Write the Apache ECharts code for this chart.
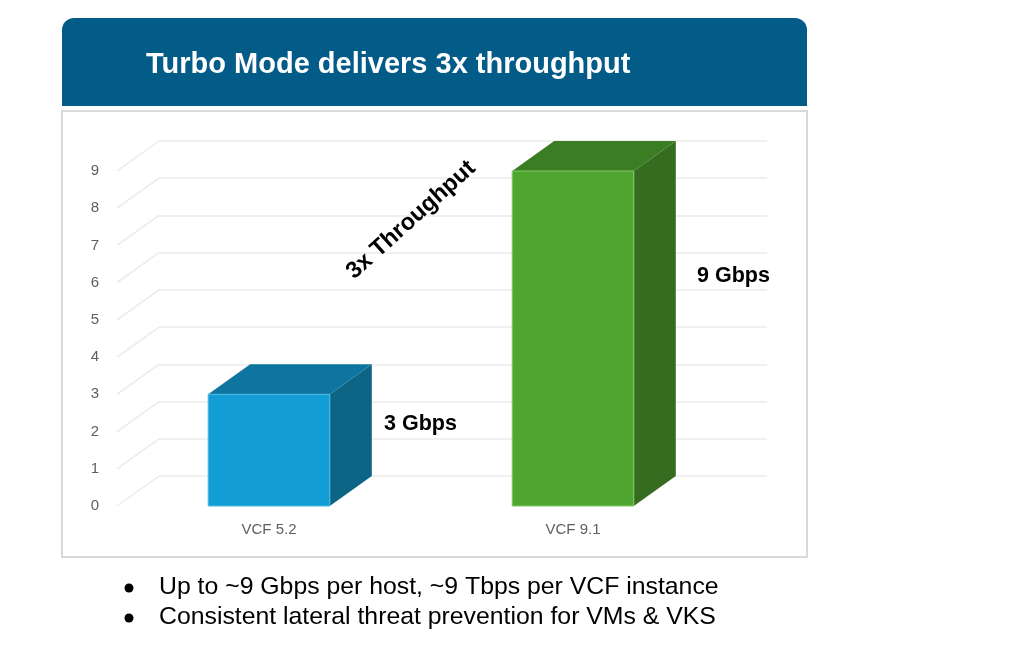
<!DOCTYPE html>
<html>
<head>
<meta charset="utf-8">
<script src="https://cdn.jsdelivr.net/npm/echarts@6/dist/echarts.min.js"></script>
<style>
  html, body { margin: 0; padding: 0; background: #fff; }
  #main { width: 1012px; height: 652px; }
</style>
</head>
<body>
<div id="main"></div>
<script>
  // data
  var categories = ['VCF 5.2', 'VCF 9.1'];
  var throughput = [3, 9];
  var valueLabels = ['3 Gbps', '9 Gbps'];
  var yTicks = [0, 1, 2, 3, 4, 5, 6, 7, 8, 9];
  var titleText = 'Turbo Mode delivers 3x throughput';
  var bullets = [
    'Up to ~9 Gbps per host, ~9 Tbps per VCF instance',
    'Consistent lateral threat prevention for VMs & VKS'
  ];

  // 3d look: depth of the bars / walls
  var DX = 42, DY = -30;
  var faces = [
    { front: '#129ED5', top: '#0D759F', side: '#0D6586', edge: '#4DB8E2' },
    { front: '#4EA630', top: '#3A7D23', side: '#356C1F', edge: '#86C96C' }
  ];
  var FONT = '"Liberation Sans", Arial, sans-serif';

  var myChart = echarts.init(document.getElementById('main'));

  var option = {
    backgroundColor: '#fff',
    animation: false,
    grid: [
      { left: 117, top: 171, width: 608, height: 335 },   // front plane
      { left: 159, top: 141, width: 608, height: 335 }    // back wall
    ],
    xAxis: [
      {
        type: 'category', gridIndex: 0, data: categories,
        axisLine: { show: false }, axisTick: { show: false },
        axisLabel: { color: '#5f5f5f', fontSize: 15, fontFamily: FONT, margin: 16 }
      },
      { type: 'category', gridIndex: 1, data: categories, show: false }
    ],
    yAxis: [
      {
        type: 'value', gridIndex: 0, min: 0, max: 9, interval: 1,
        axisLine: { show: false }, axisTick: { show: false },
        splitLine: { show: false },
        axisLabel: { color: '#5f5f5f', fontSize: 15, fontFamily: FONT, margin: 18 }
      },
      {
        type: 'value', gridIndex: 1, min: 0, max: 9, interval: 1,
        axisLine: { show: false }, axisTick: { show: false },
        axisLabel: { show: false },
        splitLine: { lineStyle: { color: '#ebebeb', width: 1.5 } }
      }
    ],
    series: [
      {
        // side wall lines (front axis -> back wall)
        type: 'custom', xAxisIndex: 0, yAxisIndex: 0, silent: true, z: 1,
        data: yTicks.map(function (v) { return [0, v]; }),
        renderItem: function (params, api) {
          var x = params.coordSys.x;
          var y = api.coord([0, api.value(1)])[1];
          return {
            type: 'line',
            shape: { x1: x, y1: y, x2: x + DX, y2: y + DY },
            style: { stroke: '#ebebeb', lineWidth: 1.5 }
          };
        }
      },
      {
        type: 'custom', xAxisIndex: 0, yAxisIndex: 0, z: 3,
        data: throughput.map(function (v, i) { return [i, v]; }),
        renderItem: function (params, api) {
          var i = api.value(0);
          var base = api.coord([i, 0]);
          var top = api.coord([i, api.value(1)]);
          var w = api.size([1, 0])[0] * 0.4;
          var x0 = base[0] - w / 2, x1 = base[0] + w / 2;
          var yt = top[1], yb = base[1];
          var c = faces[params.dataIndex];
          return {
            type: 'group',
            children: [
              {
                type: 'polygon',
                shape: { points: [[x1, yt], [x1 + DX, yt + DY], [x1 + DX, yb + DY], [x1, yb]] },
                style: { fill: c.side }
              },
              {
                type: 'polygon',
                shape: { points: [[x0, yt], [x1, yt], [x1 + DX, yt + DY], [x0 + DX, yt + DY]] },
                style: { fill: c.top }
              },
              {
                type: 'rect',
                shape: { x: x0, y: yt, width: w, height: yb - yt },
                style: { fill: c.front, stroke: c.edge, lineWidth: 1 }
              }
            ]
          };
        }
      }
    ],
    graphic: [
      {
        type: 'rect', z: 0,
        shape: { x: 62, y: 18, width: 745, height: 88, r: [12, 12, 0, 0] },
        style: { fill: '#035B87' }
      },
      {
        type: 'text', x: 146, y: 65, z: 10,
        style: {
          text: titleText, fill: '#fff', font: 'bold 29px ' + FONT,
          verticalAlign: 'middle'
        }
      },
      {
        type: 'rect', z: 0,
        shape: { x: 62, y: 111, width: 745, height: 446 },
        style: { fill: 'none', stroke: '#d9d9d9', lineWidth: 2 }
      },
      {
        type: 'text', x: 384, y: 424, z: 10,
        style: { text: valueLabels[0], fill: '#000', font: 'bold 21.5px ' + FONT, verticalAlign: 'middle' }
      },
      {
        type: 'text', x: 697, y: 276, z: 10,
        style: { text: valueLabels[1], fill: '#000', font: 'bold 21.5px ' + FONT, verticalAlign: 'middle' }
      },
      {
        type: 'text', x: 411, y: 220, z: 10, rotation: 42 * Math.PI / 180,
        style: {
          text: '3x Throughput', fill: '#000', font: 'bold 23.5px ' + FONT,
          align: 'center', verticalAlign: 'middle'
        }
      },
      { type: 'circle', shape: { cx: 129, cy: 588, r: 4.5 }, style: { fill: '#000' } },
      { type: 'circle', shape: { cx: 129, cy: 618, r: 4.5 }, style: { fill: '#000' } },
      {
        type: 'text', x: 159, y: 587,
        style: { text: bullets[0], fill: '#000', font: '24.8px ' + FONT, verticalAlign: 'middle' }
      },
      {
        type: 'text', x: 159, y: 617,
        style: { text: bullets[1], fill: '#000', font: '24.8px ' + FONT, verticalAlign: 'middle' }
      }
    ]
  };

  myChart.setOption(option);
  window.onresize = myChart.resize;
</script>
</body>
</html>
